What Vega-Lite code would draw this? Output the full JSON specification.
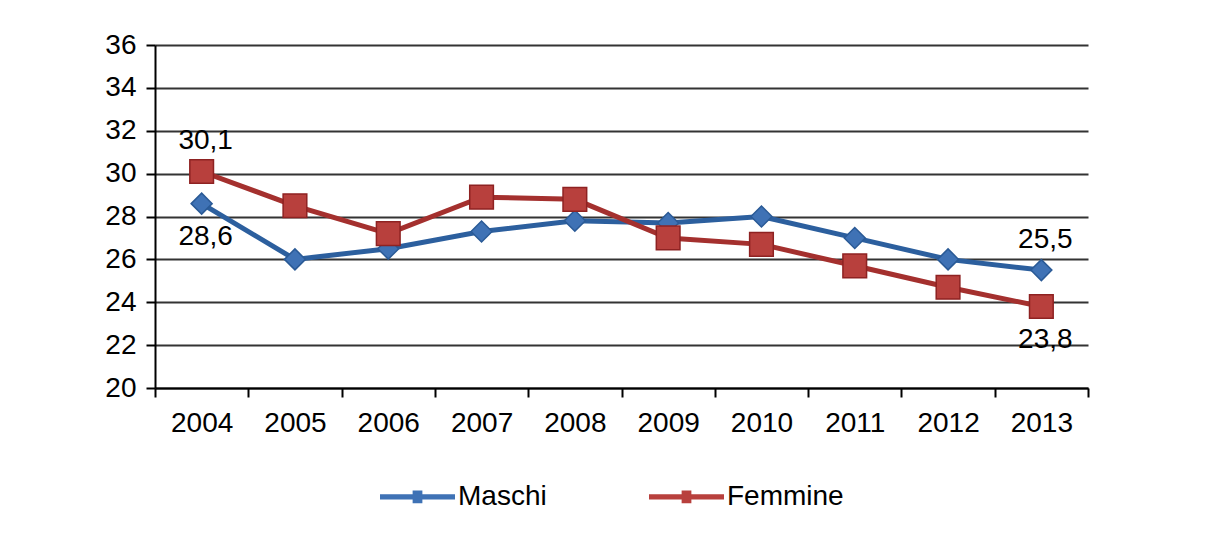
{
  "$schema": "https://vega.github.io/schema/vega-lite/v6.json",
  "width": 933,
  "height": 343,
  "autosize": {"type": "none"},
  "padding": {"left": 155, "top": 45, "right": 131, "bottom": 149},
  "background": "white",
  "config": {"view": {"stroke": null}, "font": "Liberation Sans"},
  "data": {
    "values": [
      {"anno": "2004", "serie": "Maschi", "valore": 28.6, "etichetta": "28,6"},
      {"anno": "2005", "serie": "Maschi", "valore": 26.0},
      {"anno": "2006", "serie": "Maschi", "valore": 26.5},
      {"anno": "2007", "serie": "Maschi", "valore": 27.3},
      {"anno": "2008", "serie": "Maschi", "valore": 27.8},
      {"anno": "2009", "serie": "Maschi", "valore": 27.7},
      {"anno": "2010", "serie": "Maschi", "valore": 28.0},
      {"anno": "2011", "serie": "Maschi", "valore": 27.0},
      {"anno": "2012", "serie": "Maschi", "valore": 26.0},
      {"anno": "2013", "serie": "Maschi", "valore": 25.5, "etichetta": "25,5"},
      {"anno": "2004", "serie": "Femmine", "valore": 30.1, "etichetta": "30,1"},
      {"anno": "2005", "serie": "Femmine", "valore": 28.5},
      {"anno": "2006", "serie": "Femmine", "valore": 27.2},
      {"anno": "2007", "serie": "Femmine", "valore": 28.9},
      {"anno": "2008", "serie": "Femmine", "valore": 28.8},
      {"anno": "2009", "serie": "Femmine", "valore": 27.0},
      {"anno": "2010", "serie": "Femmine", "valore": 26.7},
      {"anno": "2011", "serie": "Femmine", "valore": 25.7},
      {"anno": "2012", "serie": "Femmine", "valore": 24.7},
      {"anno": "2013", "serie": "Femmine", "valore": 23.8, "etichetta": "23,8"}
    ]
  },
  "encoding": {
    "x": {
      "field": "anno",
      "type": "ordinal",
      "scale": {"type": "band", "paddingInner": 0, "paddingOuter": 0},
      "axis": {
        "title": null,
        "labelAngle": 0,
        "labelFontSize": 28,
        "labelColor": "#000000",
        "labelPadding": 12,
        "tickBand": "extent",
        "tickSize": 9,
        "tickColor": "#000000",
        "tickWidth": 2,
        "domainColor": "#000000",
        "domainWidth": 2,
        "grid": false
      }
    },
    "y": {
      "field": "valore",
      "type": "quantitative",
      "scale": {"domain": [20, 36], "nice": false, "zero": false},
      "axis": {
        "title": null,
        "values": [20, 22, 24, 26, 28, 30, 32, 34, 36],
        "labelFontSize": 28,
        "labelColor": "#000000",
        "labelPadding": 10,
        "tickSize": 9,
        "tickColor": "#000000",
        "tickWidth": 2,
        "domainColor": "#000000",
        "domainWidth": 2,
        "grid": true,
        "gridColor": "#333333",
        "gridWidth": 2
      }
    }
  },
  "layer": [
    {
      "transform": [{"filter": "datum.serie === 'Maschi'"}],
      "mark": {"type": "line", "strokeWidth": 5, "color": "#2C5F9E"},
      "encoding": {}
    },
    {
      "transform": [{"filter": "datum.serie === 'Maschi'"}],
      "mark": {"type": "point", "filled": true, "opacity": 1, "shape": "diamond", "size": 440, "strokeWidth": 1.5, "stroke": "#2A5A96"},
      "encoding": {
        "fill": {
          "field": "serie",
          "type": "nominal",
          "scale": {"domain": ["Maschi", "Femmine"], "range": ["#3F72B5", "#B8403D"]},
          "legend": {
            "title": null,
            "orient": "none",
            "direction": "horizontal",
            "legendX": 225,
            "legendY": 414,
            "padding": 0,
            "symbolType": "M-1,-0.07L-0.13,-0.07L-0.13,-0.17L0.13,-0.17L0.13,-0.07L1,-0.07L1,0.07L0.13,0.07L0.13,0.17L-0.13,0.17L-0.13,0.07L-1,0.07Z",
            "symbolSize": 5625,
            "symbolStrokeWidth": 0,
            "labelFontSize": 28,
            "labelColor": "#000000",
            "labelOffset": 3,
            "columnPadding": 102
          }
        }
      }
    },
    {
      "transform": [{"filter": "datum.serie === 'Femmine'"}],
      "mark": {"type": "line", "strokeWidth": 5, "color": "#A4302E"},
      "encoding": {}
    },
    {
      "transform": [{"filter": "datum.serie === 'Femmine'"}],
      "mark": {"type": "point", "filled": true, "opacity": 1, "shape": "square", "size": 560, "strokeWidth": 1.5, "stroke": "#8E2222"},
      "encoding": {
        "fill": {"field": "serie", "type": "nominal"}
      }
    },
    {
      "transform": [{"filter": "(datum.serie === 'Femmine' && datum.anno === '2004') || (datum.serie === 'Maschi' && datum.anno === '2013')"}],
      "mark": {"type": "text", "fontSize": 28, "color": "#000000", "dy": -30, "dx": 4},
      "encoding": {"text": {"field": "etichetta", "type": "nominal"}}
    },
    {
      "transform": [{"filter": "(datum.serie === 'Maschi' && datum.anno === '2004') || (datum.serie === 'Femmine' && datum.anno === '2013')"}],
      "mark": {"type": "text", "fontSize": 28, "color": "#000000", "dy": 33, "dx": 4},
      "encoding": {"text": {"field": "etichetta", "type": "nominal"}}
    }
  ]
}
